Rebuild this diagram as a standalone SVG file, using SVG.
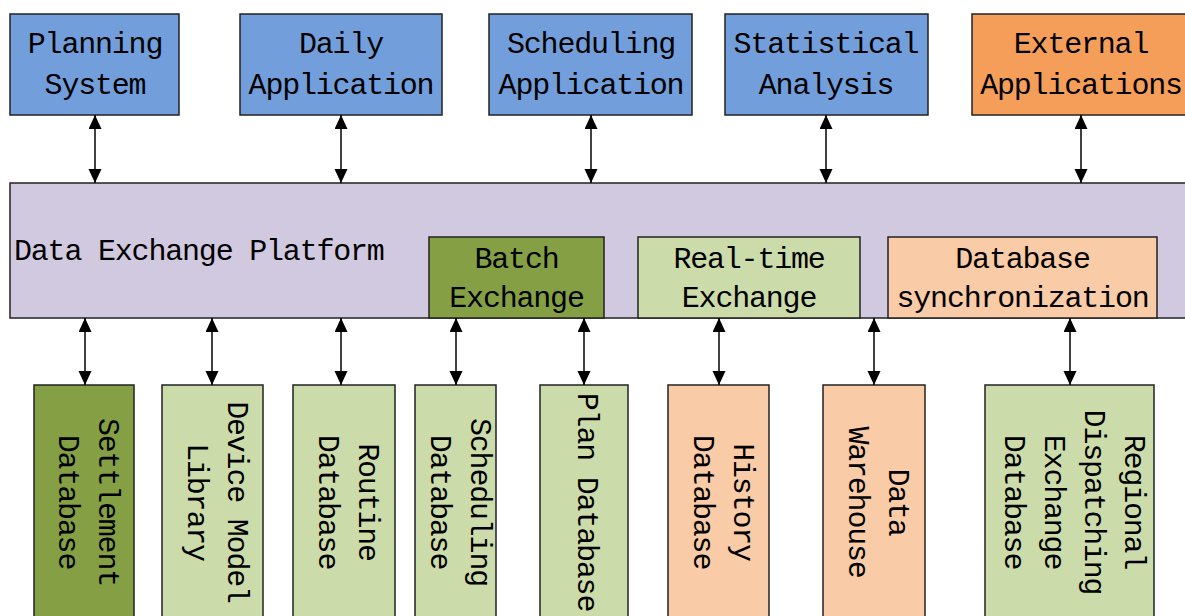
<svg xmlns="http://www.w3.org/2000/svg" width="1185" height="616" viewBox="0 0 1185 616">
<style>
  .box { stroke: #222; stroke-width: 1.5; }
  .blue { fill: #729FDB; }
  .orange { fill: #F59E5A; }
  .lav { fill: #D1C9DF; }
  .dgreen { fill: #85A044; }
  .lgreen { fill: #CCDBAA; }
  .lorange { fill: #F9CBA6; }
  text { font-family: "Liberation Mono", "DejaVu Sans Mono", monospace; font-size: 30px; letter-spacing: -1.2px; fill: #000; }
  .c { text-anchor: middle; }
  .conn line { stroke: #000; stroke-width: 1.5; marker-start: url(#ah); marker-end: url(#ah); }
</style>
<defs>
  <marker id="ah" markerUnits="userSpaceOnUse" markerWidth="15" markerHeight="14" refX="14" refY="6.5" orient="auto-start-reverse" viewBox="0 0 15 14">
    <path d="M0,0 L14,6.5 L0,13 z" fill="#000"/>
  </marker>
</defs>
<rect width="1185" height="616" fill="#fff"/>

<g id="planning-system">
  <rect class="box blue" x="10" y="14" width="169" height="101"/>
  <text class="c" x="95" y="53">Planning<tspan x="95" y="94">System</tspan></text>
</g>
<g id="daily-application">
  <rect class="box blue" x="240" y="14" width="202" height="101"/>
  <text class="c" x="341" y="53">Daily<tspan x="341" y="94">Application</tspan></text>
</g>
<g id="scheduling-application">
  <rect class="box blue" x="489" y="14" width="203" height="101"/>
  <text class="c" x="591" y="53">Scheduling<tspan x="591" y="94">Application</tspan></text>
</g>
<g id="statistical-analysis">
  <rect class="box blue" x="725" y="14" width="203" height="101"/>
  <text class="c" x="826" y="53">Statistical<tspan x="826" y="94">Analysis</tspan></text>
</g>
<g id="external-applications">
  <rect class="box orange" x="972" y="14" width="220" height="101"/>
  <text class="c" x="1081" y="53">External<tspan x="1081" y="94">Applications</tspan></text>
</g>

<g id="data-exchange-platform">
  <rect class="box lav" x="10" y="183" width="1185" height="135"/>
  <text x="14" y="260">Data Exchange Platform</text>
</g>
<g id="batch-exchange">
  <rect class="box dgreen" x="429" y="237" width="175" height="81"/>
  <text class="c" x="516.5" y="268">Batch<tspan x="516.5" y="307">Exchange</tspan></text>
</g>
<g id="realtime-exchange">
  <rect class="box lgreen" x="638" y="237" width="222" height="81"/>
  <text class="c" x="749" y="268">Real-time<tspan x="749" y="307">Exchange</tspan></text>
</g>
<g id="database-synchronization">
  <rect class="box lorange" x="888" y="237" width="269" height="81"/>
  <text class="c" x="1022.5" y="268">Database<tspan x="1022.5" y="307">synchronization</tspan></text>
</g>

<g id="settlement-database">
  <rect class="box dgreen" x="34" y="385" width="100" height="240"/>
  <text class="c" transform="translate(84,502) rotate(90)" x="0" y="-15">Settlement<tspan x="0" y="25">Database</tspan></text>
</g>
<g id="device-model-library">
  <rect class="box lgreen" x="162" y="385" width="101" height="240"/>
  <text class="c" transform="translate(212.5,502) rotate(90)" x="0" y="-15">Device Model<tspan x="0" y="25">Library</tspan></text>
</g>
<g id="routine-database">
  <rect class="box lgreen" x="293" y="385" width="102" height="240"/>
  <text class="c" transform="translate(344,502) rotate(90)" x="0" y="-15">Routine<tspan x="0" y="25">Database</tspan></text>
</g>
<g id="scheduling-database">
  <rect class="box lgreen" x="415" y="385" width="81" height="240"/>
  <text class="c" transform="translate(455.5,502) rotate(90)" x="0" y="-15">Scheduling<tspan x="0" y="25">Database</tspan></text>
</g>
<g id="plan-database">
  <rect class="box lgreen" x="540" y="385" width="88" height="240"/>
  <text class="c" transform="translate(584,502) rotate(90)" x="0" y="6">Plan Database</text>
</g>
<g id="history-database">
  <rect class="box lorange" x="668" y="385" width="101" height="240"/>
  <text class="c" transform="translate(718.5,502) rotate(90)" x="0" y="-15">History<tspan x="0" y="25">Database</tspan></text>
</g>
<g id="data-warehouse">
  <rect class="box lorange" x="823" y="385" width="102" height="240"/>
  <text class="c" transform="translate(874,502) rotate(90)" x="0" y="-15">Data<tspan x="0" y="25">Warehouse</tspan></text>
</g>
<g id="regional-dispatching-exchange-database">
  <rect class="box lgreen" x="985" y="385" width="169" height="240"/>
  <text class="c" transform="translate(1069.5,502) rotate(90)" x="0" y="-55">Regional<tspan x="0" y="-15">Dispatching</tspan><tspan x="0" y="25">Exchange</tspan><tspan x="0" y="65">Database</tspan></text>
</g>

<g id="connectors" class="conn">
  <line x1="95" y1="115" x2="95" y2="183"/>
  <line x1="341" y1="115" x2="341" y2="183"/>
  <line x1="591" y1="115" x2="591" y2="183"/>
  <line x1="826" y1="115" x2="826" y2="183"/>
  <line x1="1081" y1="115" x2="1081" y2="183"/>
  <line x1="85" y1="318" x2="85" y2="385"/>
  <line x1="212" y1="318" x2="212" y2="385"/>
  <line x1="341" y1="318" x2="341" y2="385"/>
  <line x1="456" y1="318" x2="456" y2="385"/>
  <line x1="584" y1="318" x2="584" y2="385"/>
  <line x1="719" y1="318" x2="719" y2="385"/>
  <line x1="874" y1="318" x2="874" y2="385"/>
  <line x1="1070" y1="318" x2="1070" y2="385"/>
</g>
</svg>
